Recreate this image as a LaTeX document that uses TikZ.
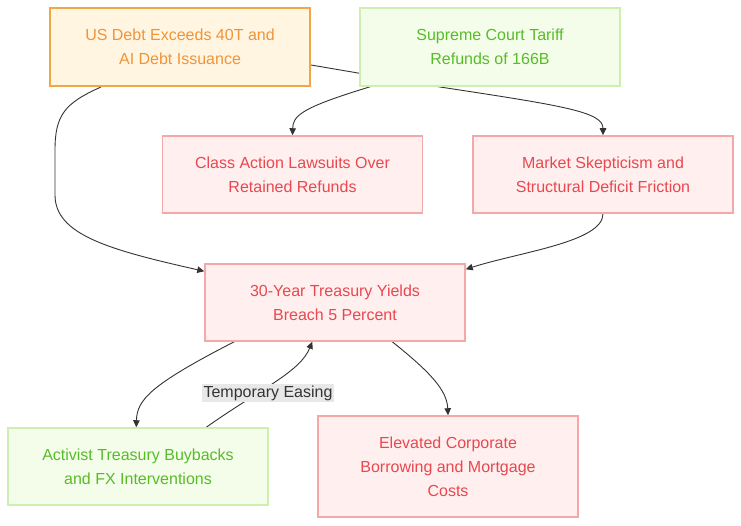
\documentclass[tikz,border=0pt]{standalone}
\usepackage{fontspec}
\setmainfont{Liberation Sans}
\usetikzlibrary{arrows.meta,calc}
\pgfdeclarelayer{background}
\pgfsetlayers{background,main}
\definecolor{orfill}{HTML}{FFF5E1}
\definecolor{ordraw}{HTML}{EEA847}
\definecolor{ortext}{HTML}{F0943A}
\definecolor{grfill}{HTML}{F4FDEA}
\definecolor{grdraw}{HTML}{CDEFB0}
\definecolor{grtext}{HTML}{58BC28}
\definecolor{rdfill}{HTML}{FFEFEF}
\definecolor{rddraw}{HTML}{F5A8A8}
\definecolor{rdtext}{HTML}{E8484F}
\definecolor{edge}{HTML}{333333}
\definecolor{lblfill}{HTML}{E8E8E8}
\begin{document}
\begin{tikzpicture}[x=1pt,y=-1pt,
  box/.style={rectangle, minimum width=260pt, align=center, inner sep=0pt,
    font=\fontsize{16}{24}\selectfont},
  orbox/.style={box, fill=orfill, draw=ordraw, line width=2pt, text=ortext},
  grbox/.style={box, fill=grfill, draw=grdraw, line width=1.5pt, text=grtext},
  rdbox/.style={box, fill=rdfill, draw=rddraw, line width=1.5pt, text=rdtext},
  conn/.style={draw=edge, line width=0.9pt, -{Triangle[length=7pt,width=6.5pt]}},
  lbl/.style={fill=lblfill, text=edge, inner sep=1.5pt, font=\fontsize{16}{20}\selectfont}
]
\useasboundingbox (0,0) rectangle (741,526);
\node[orbox, minimum height=78pt] (A) at (180,47) {US Debt Exceeds 40T and\\AI Debt Issuance};
\node[grbox, minimum height=78pt] (B) at (490,47) {Supreme Court Tariff\\Refunds of 166B};
\node[rdbox, minimum height=77pt] (C) at (292.5,174.5) {Class Action Lawsuits Over\\Retained Refunds};
\node[rdbox, minimum height=77pt] (D) at (603,174.5) {Market Skepticism and\\Structural Deficit Friction};
\node[rdbox, minimum height=77pt] (E) at (335,302.5) {30-Year Treasury Yields\\Breach 5 Percent};
\node[grbox, minimum height=77pt] (F) at (138,466.5) {Activist Treasury Buybacks\\and FX Interventions};
\node[rdbox, minimum height=101pt] (G) at (448,466.5) {Elevated Corporate\\Borrowing and Mortgage\\Costs};
\coordinate (a1) at ($(A.south west)+(52,0)$);
\coordinate (a2) at ($(A.north east)+(0,58)$);
\coordinate (e1) at ($(E.north west)+(0,8)$);
\coordinate (d0) at (D.north);
\coordinate (b1) at ($(B.south west)+(11,0)$);
\coordinate (c0) at (C.north);
\coordinate (d1) at (D.south);
\coordinate (e2) at ($(E.north east)+(0,6)$);
\coordinate (e3) at ($(E.south west)+(30,0)$);
\coordinate (f1) at ($(F.north west)+(129,0)$);
\coordinate (f2) at ($(F.north west)+(199,0)$);
\coordinate (e4) at ($(E.south west)+(108,0)$);
\coordinate (e5) at ($(E.south west)+(188,0)$);
\coordinate (g0) at (G.north);
\begin{pgfonlayer}{background}
\draw[conn] (a1) .. controls (65,103) and (55,115) .. (55,150) -- (55,195) .. controls (55,235) and (110,250) .. (e1);
\draw[conn] (a2) -- (440,87) .. controls (565,106) and (603,112) .. (d0);
\draw[conn] (b1) .. controls (300,108) and (293,116) .. (c0);
\draw[conn] (d1) .. controls (603,242) and (520,252) .. (e2);
\draw[conn] (e3) .. controls (150,385) and (137,400) .. (f1);
\draw[conn] (f2) .. controls (262,388) and (300,372) .. (e4);
\draw[conn] (e5) .. controls (430,372) and (447,390) .. (g0);
\end{pgfonlayer}
\node[lbl] (L) at (268,393) {Temporary Easing};
\end{tikzpicture}
\end{document}
